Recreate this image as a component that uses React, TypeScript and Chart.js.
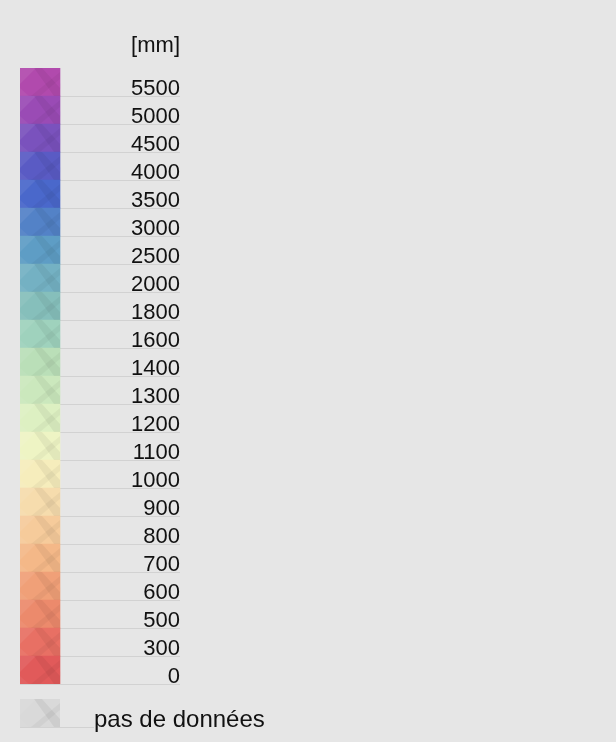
import React, { useEffect, useRef } from 'react';
import { Chart, registerables } from 'chart.js';

Chart.register(...registerables);

// ---- data ----
const UNIT = '[mm]';
const CLASS_LABELS = [
  '5500', '5000', '4500', '4000', '3500', '3000', '2500', '2000', '1800', '1600', '1400',
  '1300', '1200', '1100', '1000', '900', '800', '700', '600', '500', '300', '0',
];
const CLASS_COLORS = [
  '#b14aad', '#9a4bb5', '#7a52bd', '#5a5bc4', '#4a68cb', '#5382c7', '#5e9dc5', '#74b1c3',
  '#86bfbb', '#9fd2bd', '#badfb8', '#cbe8bd', '#ddf0c2', '#eef4c4', '#f6edbc', '#f6dcad',
  '#f6cb9b', '#f4b888', '#f0a078', '#ec8a6c', '#e87064', '#e15a5a',
];
const NODATA_LABEL = 'pas de données';
const NODATA_COLOR = '#d9d9d9';
const SWATCH_SPAN: [number, number] = [0, 1];

// ---- style ----
const FONT = '"Liberation Sans", Arial, Helvetica, sans-serif';
const BG = '#e6e6e6';
const LINE = '#d2d2d2';
const TEXT = '#111111';

function texturedFill(ctx: CanvasRenderingContext2D, color: string, ox: number, oy: number) {
  const w = 40;
  const h = 28;
  const c = document.createElement('canvas');
  c.width = w;
  c.height = h;
  const g = c.getContext('2d')!;
  g.fillStyle = color;
  g.fillRect(0, 0, w, h);
  const poly = (pts: number[][], fill: string) => {
    g.beginPath();
    g.moveTo(pts[0][0], pts[0][1]);
    for (let i = 1; i < pts.length; i++) g.lineTo(pts[i][0], pts[i][1]);
    g.closePath();
    g.fillStyle = fill;
    g.fill();
  };
  poly([[0, 0], [16, 0], [0, 16]], 'rgba(255,255,255,0.07)');
  poly([[14, 0], [22, 0], [40, 20], [40, 28], [34, 28]], 'rgba(0,0,0,0.05)');
  poly([[40, 4], [40, 11], [20, 28], [11, 28]], 'rgba(0,0,0,0.04)');
  poly([[0, 28], [0, 20], [9, 28]], 'rgba(255,255,255,0.05)');
  const p = ctx.createPattern(c, 'repeat')!;
  try {
    p.setTransform(new DOMMatrix().translate(ox, oy));
  } catch (e) {
    /* ignore */
  }
  return p;
}

const gridColor = (c: any) => (c.index === 0 ? 'rgba(0,0,0,0)' : LINE);

export default function App() {
  const ref1 = useRef<HTMLCanvasElement>(null);
  const ref2 = useRef<HTMLCanvasElement>(null);

  useEffect(() => {
    document.body.style.margin = '0';
    document.body.style.background = BG;
    const ctx1 = ref1.current!.getContext('2d')!;
    const ctx2 = ref2.current!.getContext('2d')!;

    const chart1 = new Chart(ctx1, {
      type: 'bar',
      data: {
        labels: CLASS_LABELS,
        datasets: [
          {
            data: CLASS_LABELS.map(() => SWATCH_SPAN) as any,
            backgroundColor: CLASS_COLORS.map((c) => texturedFill(ctx1, c, 20, 68)) as any,
            borderWidth: 0,
            barPercentage: 1,
            categoryPercentage: 1,
          },
        ],
      },
      options: {
        indexAxis: 'y',
        responsive: false,
        animation: false,
        devicePixelRatio: 1,
        events: [],
        layout: { padding: { left: 20, right: 436, top: 0, bottom: 58 } },
        plugins: {
          legend: { display: false },
          tooltip: { enabled: false },
          title: {
            display: true,
            text: UNIT,
            align: 'end',
            fullSize: false,
            color: TEXT,
            font: { family: FONT, size: 22, weight: 'normal', lineHeight: '24px' } as any,
            padding: { top: 34, bottom: 10 },
          },
        },
        scales: {
          x: { display: false, min: 0, max: 4 },
          y: {
            position: 'right',
            border: { display: false },
            grid: { drawTicks: false, color: gridColor, lineWidth: 1 },
            ticks: {
              mirror: true,
              autoSkip: false,
              padding: 0,
              labelOffset: 7,
              color: TEXT,
              font: { family: FONT, size: 22 },
            },
          },
        },
      },
    });

    const chart2 = new Chart(ctx2, {
      type: 'bar',
      data: {
        labels: [NODATA_LABEL],
        datasets: [
          {
            data: [SWATCH_SPAN] as any,
            backgroundColor: texturedFill(ctx2, NODATA_COLOR, 20, 699) as any,
            borderWidth: 0,
            barPercentage: 1,
            categoryPercentage: 1,
          },
        ],
      },
      options: {
        indexAxis: 'y',
        responsive: false,
        animation: false,
        devicePixelRatio: 1,
        events: [],
        layout: { padding: { left: 20, right: 0, top: 699, bottom: 15 } },
        plugins: { legend: { display: false }, tooltip: { enabled: false } },
        scales: {
          x: { display: false, min: 0, max: 1 },
          y: {
            position: 'right',
            afterFit: (s: any) => {
              s.width = 556;
            },
            border: { display: false },
            grid: { drawTicks: true, tickLength: 34, color: gridColor, tickColor: gridColor, lineWidth: 1 },
            ticks: {
              autoSkip: false,
              padding: 0,
              labelOffset: 7,
              color: TEXT,
              font: { family: FONT, size: 24 },
            },
          },
        },
      },
    });

    return () => {
      chart1.destroy();
      chart2.destroy();
    };
  }, []);

  return (
    <div style={{ position: 'relative', width: 616, height: 742, background: BG, overflow: 'hidden' }}>
      <canvas ref={ref1} width={616} height={742} style={{ position: 'absolute', left: 0, top: 0 }} />
      <canvas ref={ref2} width={616} height={742} style={{ position: 'absolute', left: 0, top: 0 }} />
    </div>
  );
}
